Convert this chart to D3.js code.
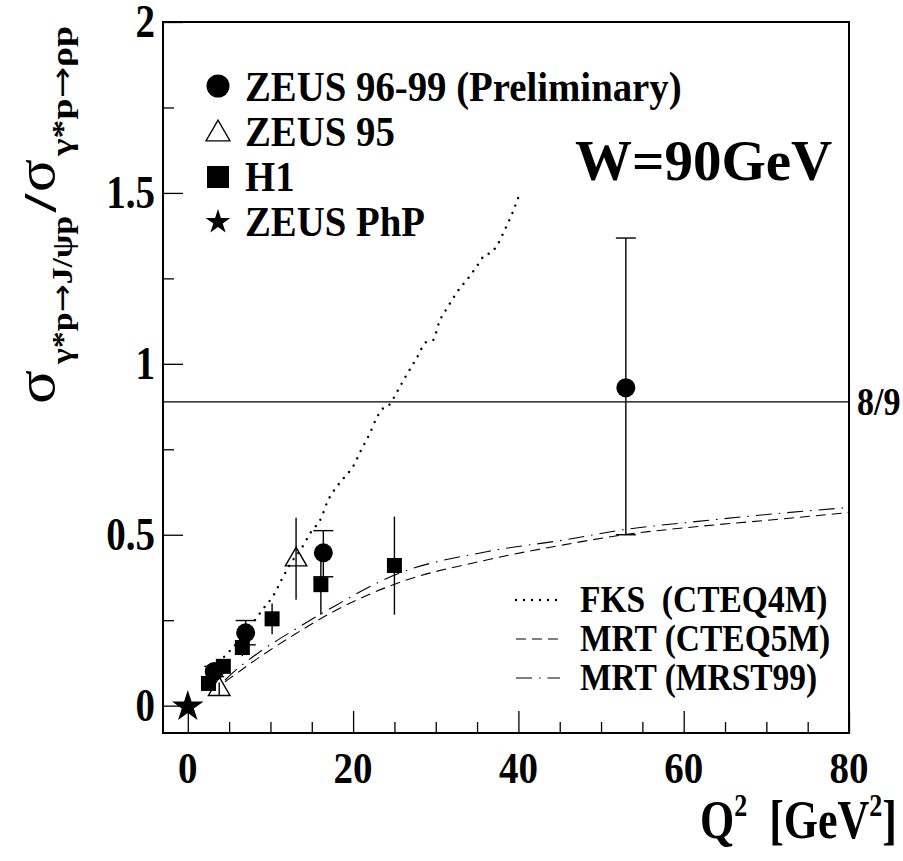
<!DOCTYPE html>
<html>
<head>
<meta charset="utf-8">
<script src="https://cdn.jsdelivr.net/npm/d3@7"></script>
<style>
  body { margin: 0; background: #fff; }
  svg text { font-family: "Liberation Serif", "Times New Roman", serif; font-weight: bold; fill: #000; white-space: pre; }
</style>
</head>
<body>
<div id="chart"></div>
<script>
// ---- data ----
// [Q2, ratio, err down, err up]
const zeus9699 = [[3.2, 0.10, 0.015, 0.015], [7.0, 0.213, 0.035, 0.036], [16.4, 0.447, 0.07, 0.065], [53, 0.93, 0.43, 0.438]];
const zeus95 = [[3.8, 0.048, 0.02, 0.02], [13.1, 0.427, 0.117, 0.123]];
const h1 = [[2.5, 0.065, 0.01, 0.01], [4.3, 0.115, 0.012, 0.012], [6.6, 0.17, 0.025, 0.025], [10.2, 0.254, 0.045, 0.045], [16.1, 0.354, 0.088, 0.07], [25, 0.41, 0.144, 0.143]];
const zeusPhp = [[0, 0, 0, 0]];

// theory curves [Q2, ratio]
const fksCteq4m = [[4.4, 0.143], [5.0, 0.158], [7.9, 0.243], [9.1, 0.283], [10.4, 0.324], [11.4, 0.371], [12.5, 0.418], [13.7, 0.458], [14.9, 0.508], [16.1, 0.547], [16.9, 0.597], [18.1, 0.643], [18.8, 0.664], [20.0, 0.700], [21.0, 0.749], [22.0, 0.795], [22.9, 0.844], [23.5, 0.867], [24.3, 0.878], [25.5, 0.926], [26.6, 0.973], [27.7, 1.017], [28.8, 1.063], [29.7, 1.070], [30.4, 1.121], [31.5, 1.168], [32.7, 1.214], [34.0, 1.253], [35.3, 1.297], [35.9, 1.318], [36.7, 1.325], [37.4, 1.346], [38.4, 1.394], [39.3, 1.443], [40.1, 1.494]];
const mrtCteq5m = [[4.5, 0.07], [5.2, 0.082], [8.8, 0.144], [12.9, 0.208], [17.3, 0.271], [25.1, 0.356], [36.3, 0.427], [45.6, 0.471], [52.8, 0.50], [61.7, 0.524], [71.8, 0.546], [80, 0.565]];
const mrtMrst99 = [[4.5, 0.075], [5.2, 0.091], [8.8, 0.159], [12.9, 0.222], [17.3, 0.285], [25.1, 0.383], [36.3, 0.451], [45.6, 0.485], [52.8, 0.515], [61.7, 0.539], [71.8, 0.563], [80, 0.58]];

const refLine = 8 / 9;
const xMajor = [0, 20, 40, 60, 80];
const xMinor = [5, 10, 15, 25, 30, 35, 45, 50, 55, 65, 70, 75];
const yMajor = [0, 0.5, 1, 1.5, 2];
const yMinor = [0.25, 0.75, 1.25, 1.75];
const yLabels = ["0", "0.5", "1", "1.5", "2"];

const legendPoints = ["ZEUS 96-99 (Preliminary)", "ZEUS 95", "H1", "ZEUS PhP"];
const legendCurves = ["FKS\u00a0 (CTEQ4M)", "MRT (CTEQ5M)", "MRT (MRST99)"];

// ---- layout ----
const width = 903, height = 861;
const frame = { left: 163, right: 849, top: 22, bottom: 733 };

const svg = d3.select('#chart').append('svg')
    .attr('width', width)
    .attr('height', height);

const x = d3.scaleLinear().domain([-3, 80]).range([frame.left, frame.right]);
const y = d3.scaleLinear().domain([-0.08, 2]).range([frame.bottom, frame.top]);

// stretched text helper (the original glyphs are taller than Times)
function label(g, px, py, str, size, anchor, sy) {
    return g.append('text')
        .attr('transform', `translate(${px},${py}) scale(1,${sy || 1.15})`)
        .attr('font-size', size)
        .attr('text-anchor', anchor || 'start')
        .text(str);
}

// ticks
const axes = svg.append('g');
function tickAxis(axis, pos, vals, size) {
    const g = axes.append('g')
        .attr('transform', pos)
        .call(axis.tickValues(vals).tickSize(size).tickFormat(''));
    g.select('.domain').remove();
    g.selectAll('line').attr('stroke', '#000').attr('stroke-width', 1.3);
}
tickAxis(d3.axisBottom(x), `translate(0,${frame.bottom})`, xMajor, -22);
tickAxis(d3.axisBottom(x), `translate(0,${frame.bottom})`, xMinor, -11);
tickAxis(d3.axisLeft(y), `translate(${frame.left},0)`, yMajor, -20);
tickAxis(d3.axisLeft(y), `translate(${frame.left},0)`, yMinor, -11);

// frame
svg.append('rect')
    .attr('x', frame.left).attr('y', frame.top)
    .attr('width', frame.right - frame.left).attr('height', frame.bottom - frame.top)
    .attr('fill', 'none').attr('stroke', '#000').attr('stroke-width', 2);

// tick labels
xMajor.forEach(v => label(svg, x(v), 783, String(v), 39, 'middle', 1.15));
yMajor.forEach((v, i) => label(svg, 155, y(v) + 15, yLabels[i], 39, 'end', 1.18));

// 8/9 reference line
svg.append('line')
    .attr('x1', frame.left).attr('x2', frame.right)
    .attr('y1', y(refLine)).attr('y2', y(refLine))
    .attr('stroke', '#000').attr('stroke-width', 1.3);
label(svg, 857, y(refLine) + 13, '8/9', 34, 'start', 1.2);

// theory curves
const line = d3.line().x(d => x(d[0])).y(d => y(d[1])).curve(d3.curveMonotoneX);
const curveStyles = [
    { data: fksCteq4m, dash: '0.01,8', w: 2.4, cap: 'round' },
    { data: mrtCteq5m, dash: '10,6', w: 1.1, cap: 'butt' },
    { data: mrtMrst99, dash: '16,7,1.5,7', w: 1.1, cap: 'butt' }
];
curveStyles.forEach(c => {
    svg.append('path')
        .attr('d', line(c.data))
        .attr('fill', 'none')
        .attr('stroke', '#000')
        .attr('stroke-width', c.w)
        .attr('stroke-linecap', c.cap)
        .attr('stroke-dasharray', c.dash);
});

// error bars
function errorBars(data, caps) {
    const g = svg.append('g');
    data.forEach(d => {
        g.append('line')
            .attr('x1', x(d[0])).attr('x2', x(d[0]))
            .attr('y1', y(d[1] - d[2])).attr('y2', y(d[1] + d[3]))
            .attr('stroke', '#000').attr('stroke-width', 1.4);
        if (caps) {
            [d[1] - d[2], d[1] + d[3]].forEach(v => {
                g.append('line')
                    .attr('x1', x(d[0]) - 10).attr('x2', x(d[0]) + 10)
                    .attr('y1', y(v)).attr('y2', y(v))
                    .attr('stroke', '#000').attr('stroke-width', 1.4);
            });
        }
    });
}
errorBars(h1, false);
errorBars(zeus95, false);
errorBars(zeus9699, true);

// markers
const symTri = (s) => d3.symbol(d3.symbolTriangle, s)();
const symStar = (s) => d3.symbol(d3.symbolStar, s)();

svg.append('g').selectAll('rect')
    .data(h1).enter().append('rect')
    .attr('x', d => x(d[0]) - 7.5).attr('y', d => y(d[1]) - 7.5)
    .attr('width', 15).attr('height', 15)
    .attr('fill', '#000');

svg.append('g').selectAll('path')
    .data(zeus95).enter().append('path')
    .attr('d', symTri(200))
    .attr('transform', d => `translate(${x(d[0])},${y(d[1])})`)
    .attr('fill', 'none').attr('stroke', '#000').attr('stroke-width', 1.4);

svg.append('g').selectAll('circle')
    .data(zeus9699).enter().append('circle')
    .attr('cx', d => x(d[0])).attr('cy', d => y(d[1]))
    .attr('r', 9.5).attr('fill', '#000');

svg.append('g').selectAll('path')
    .data(zeusPhp).enter().append('path')
    .attr('d', symStar(310))
    .attr('transform', d => `translate(${x(d[0])},${y(d[1]) + 1})`)
    .attr('fill', '#000');

// legend for data points
const leg = svg.append('g');
const legRows = [101, 146, 191, 236];
leg.append('circle').attr('cx', 218).attr('cy', legRows[0] - 15).attr('r', 11.5).attr('fill', '#000');
leg.append('path').attr('d', symTri(250)).attr('transform', `translate(218,${legRows[1] - 12})`)
    .attr('fill', 'none').attr('stroke', '#000').attr('stroke-width', 1.3);
leg.append('rect').attr('x', 207).attr('y', legRows[2] - 25).attr('width', 22).attr('height', 22).attr('fill', '#000');
leg.append('path').attr('d', symStar(190)).attr('transform', `translate(218,${legRows[3] - 14})`).attr('fill', '#000');
legendPoints.forEach((t, i) => label(leg, 245, legRows[i], t, 38.8, 'start', 1.1));

// big energy label
label(svg, 575, 180, 'W=90GeV', 57, 'start', 1.0);

// legend for curves
const cleg = svg.append('g');
const cRows = [612, 651, 690];
curveStyles.forEach((c, i) => {
    cleg.append('line')
        .attr('x1', 516).attr('x2', 560)
        .attr('y1', cRows[i] - 12).attr('y2', cRows[i] - 12)
        .attr('stroke', '#000')
        .attr('stroke-width', c.w)
        .attr('stroke-linecap', c.cap)
        .attr('stroke-dasharray', c.dash);
    label(cleg, 580, cRows[i], legendCurves[i], 33.5, 'start', 1.12);
});

// x axis title
const xt = svg.append('text')
    .attr('transform', 'translate(897,838) scale(1,1.25)')
    .attr('font-size', 44)
    .attr('text-anchor', 'end');
xt.append('tspan').text('Q');
xt.append('tspan').attr('font-size', 26).attr('dy', -18).text('2');
xt.append('tspan').attr('dy', 18).text('\u00a0\u00a0[GeV');
xt.append('tspan').attr('font-size', 26).attr('dy', -18).text('2');
xt.append('tspan').attr('dy', 18).text(']');

// y axis title, built in pieces so each part spans the same length as in the original
// [pieces, start (screen y, bottom), length, baseline (screen x), font size, weight]
const yTitleParts = [
    [['\u03c3'], 404, 34, 54, 54, 'normal'],
    [['\u03b3*p', '\u2192', 'J/\u03c8p'], 364, 148, 72, 30, 'bold'],
    [['/'], 212, 18, 56, 46, 'bold'],
    [['\u03c3'], 192, 33, 54, 54, 'normal'],
    [['\u03b3*p', '\u2192', '\u03c1p'], 156, 130, 72, 30, 'bold']
];
const yt = svg.append('g').attr('transform', 'rotate(-90)');
yTitleParts.forEach(p => {
    const t = yt.append('text')
        .attr('x', -p[1])
        .attr('y', p[3])
        .attr('font-size', p[4])
        .style('font-weight', p[5])
        .attr('textLength', p[2])
        .attr('lengthAdjust', 'spacingAndGlyphs');
    p[0].forEach(s => {
        const ts = t.append('tspan').text(s);
        if (s === '\u2192') ts.style('font-family', '"DejaVu Sans", sans-serif').style('font-weight', 'normal');
    });
});
</script>
</body>
</html>
